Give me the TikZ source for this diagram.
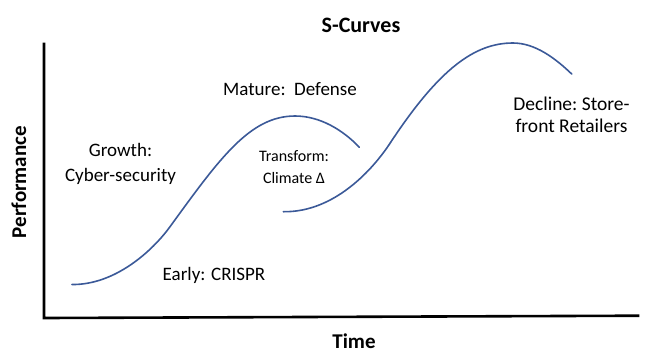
\documentclass[tikz,border=0pt]{standalone}
\usepackage{fontspec}
\setmainfont{Carlito}
\definecolor{curveblue}{RGB}{59,89,152}
\begin{document}
\begin{tikzpicture}[x=1pt,y=-1pt,
  lbl/.style={font=\fontsize{19}{25}\selectfont, align=center, inner sep=0pt},
  smalllbl/.style={font=\fontsize{16}{22}\selectfont, align=center, inner sep=0pt},
  bigbold/.style={font=\fontsize{21}{24}\selectfont\bfseries, inner sep=0pt},
  curve/.style={draw=curveblue, line width=1.6pt, line cap=round}]
\useasboundingbox (0,0) rectangle (647,360);
% axes
\coordinate (top) at (44,44);
\coordinate (origin) at (44,318);
\coordinate (right) at (638,315.7);
\draw[line width=2.6pt, line cap=rect] (top) -- (origin) -- (right);
% curve 1
\coordinate (a0) at (72,284.5);
\coordinate (a1) at (170,226.7);
\coordinate (a2) at (295,116);
\coordinate (a3) at (359.3,147.3);
\draw[curve] (a0) .. controls (115,285) and (152.4,251) .. (a1)
  .. controls (220,157.9) and (250,116) .. (a2)
  .. controls (320,116) and (343,130) .. (a3);
% curve 2
\coordinate (b0) at (283.3,211.7);
\coordinate (b1) at (390,143.3);
\coordinate (b2) at (513,43);
\coordinate (b3) at (571.7,74);
\draw[curve] (b0) .. controls (335,212.5) and (373.5,168.4) .. (b1)
  .. controls (439.5,68.1) and (475,43) .. (b2)
  .. controls (535,43) and (555,58) .. (b3);
% texts
\node[bigbold, font=\fontsize{22}{24}\selectfont\bfseries] (title) at (361,25.5) {S-Curves};
\node[bigbold] (xlab) at (354,341.5) {Time};
\node[bigbold, rotate=90] (ylab) at (19,182) {Performance};
\node[lbl] (mature) at (290,89) {Mature:\ \ Defense};
\node[lbl, font=\fontsize{19}{25.5}\selectfont] (growth) at (120.5,164) {Growth:\\Cyber-security};
\node[smalllbl] (transform) at (294,167) {Transform:\\Climate Δ};
\node[lbl, font=\fontsize{19.5}{22.5}\selectfont] (decline) at (571.5,115) {Decline:\ Store-\\front Retailers};
\node[lbl] (early) at (214,275) {Early: CRISPR};
\end{tikzpicture}
\end{document}
